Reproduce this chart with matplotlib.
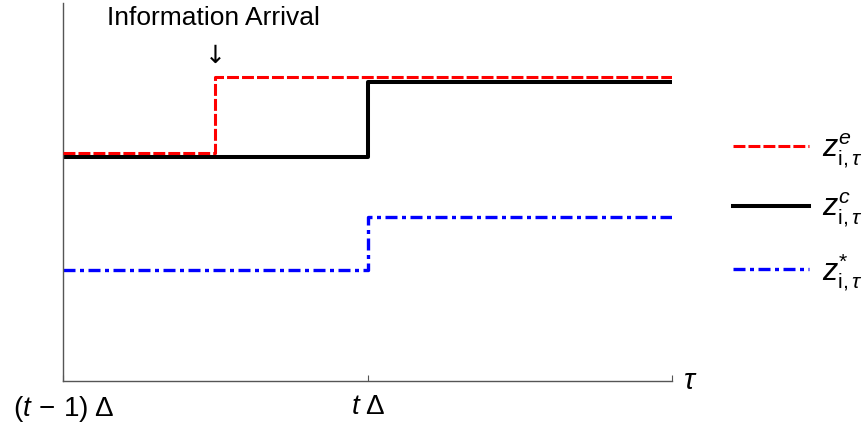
import matplotlib
matplotlib.use("Agg")
import matplotlib.pyplot as plt

plt.rcParams['font.family'] = ['Liberation Sans', 'DejaVu Sans']
plt.rcParams['mathtext.fontset'] = 'custom'
plt.rcParams['mathtext.rm'] = 'Liberation Sans'
plt.rcParams['mathtext.it'] = 'Liberation Sans:italic'
plt.rcParams['mathtext.bf'] = 'Liberation Sans:bold'

# step series: x where the level changes, levels before/after
x_red = [0.0, 0.5, 2.0]
y_red = [6.03, 8.04, 8.04]
x_black = [0.0, 1.0, 2.0]
y_black = [5.93, 7.91, 7.91]
x_blue = [0.0, 1.0, 2.0]
y_blue = [2.94, 4.34, 4.34]

tick_pos = [0, 1, 2]
tick_labels = [r"$(t\,-\,1)\;\Delta$", r"$t\;\Delta$", ""]
labels = [r"$z^{e}_{\mathrm{i},\tau}$", r"$z^{c}_{\mathrm{i},\tau}$", r"$z^{*}_{\mathrm{i},\tau}$"]

fig = plt.figure(figsize=(8.64, 4.24), dpi=100)
ax = fig.add_axes([63/864, 43/424, 609/864, 378/424])

l_black, = ax.step(x_black, y_black, where='post', color='black', lw=2.9, zorder=2)
l_blue, = ax.step(x_blue, y_blue, where='post', color='#0000ff', lw=2.4,
                  dashes=(3.6, 1.35, 1.2, 1.35), zorder=2)
l_red, = ax.step(x_red, y_red, where='post', color='#ff0000', lw=2.2,
                 dashes=(3.9, 1.0), zorder=3)

ax.set_xlim(0, 2)
ax.set_ylim(0, 10)
ax.spines['top'].set_visible(False)
ax.spines['right'].set_visible(False)
for s in ['left', 'bottom']:
    ax.spines[s].set_color('#555555')
    ax.spines[s].set_linewidth(1.0)
ax.set_yticks([])
ax.set_xticks(tick_pos)
ax.set_xticklabels(tick_labels, fontsize=20)
ax.tick_params(axis='x', direction='in', length=4, color='#555555', pad=9)

ax.text(2.06, 0, r"$\tau$", fontsize=21, ha='center', va='center')
ax.text(0.494, 9.6, "Information Arrival", fontsize=19, ha='center', va='center')
ax.text(0.5, 8.6, "\u2193", fontsize=18, ha='center', va='center', family='DejaVu Sans')

fig.legend([l_red, l_black, l_blue], labels, loc='center left',
           bbox_to_anchor=(733/864, 0.5 + (424/2 - 212)/424), frameon=False,
           fontsize=22, handlelength=2.5, handletextpad=0.42, labelspacing=0.7,
           borderaxespad=0, borderpad=0)

fig.savefig("out.png", dpi=100)
